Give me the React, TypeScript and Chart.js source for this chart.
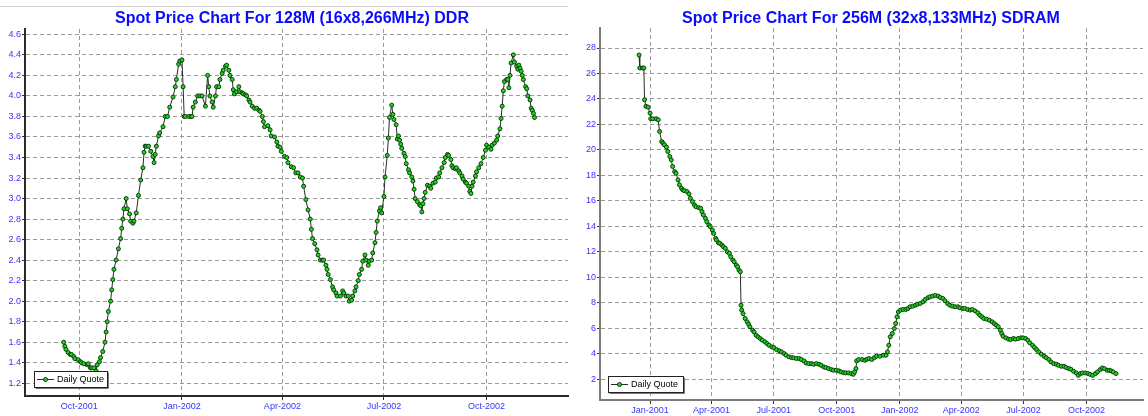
import React, { useEffect, useRef } from "react";
import { Chart, registerables } from "chart.js";

Chart.register(...registerables);

const FONT = '"Liberation Sans", Arial, Helvetica, sans-serif';

// ---------- Chart 1: 128M (16x8,266MHz) DDR ----------
const ddrTitle = "Spot Price Chart For 128M (16x8,266MHz) DDR";
// x values are days counted from 1 Jan 2001
const ddrDays = [
  259, 260, 261, 263, 265, 266, 268, 269, 272, 274, 275, 277, 280, 281, 283, 284, 286, 288, 289, 291,
  292, 294, 296, 297, 298, 299, 301, 302, 303, 304, 306, 308, 310, 311, 312, 313, 315, 316, 318, 319,
  321, 322, 324, 326, 328, 330, 331, 332, 333, 335, 337, 339, 340, 341, 342, 344, 345, 348, 350, 352,
  354, 357, 359, 360, 362, 363, 365, 366, 367, 368, 371, 373, 374, 375, 377, 379, 381, 383, 386, 388,
  389, 390, 392, 393, 395, 396, 398, 399, 401, 402, 404, 405, 407, 408, 410, 411, 412, 414, 416, 417,
  419, 420, 422, 423, 425, 426, 428, 430, 432, 434, 435, 437, 438, 439, 442, 444, 445, 448, 450, 451,
  453, 454, 457, 459, 460,
  463, 465, 467, 469, 471, 473, 474, 476, 478, 480, 481, 482, 484, 486, 487, 489, 491, 492, 494, 495,
  496, 498, 500, 501, 503, 504, 507, 509, 510, 512, 514, 515, 517, 518, 520, 521, 523, 524, 526, 527,
  529, 530, 532, 533, 535, 536, 538, 539, 540, 542, 543, 544, 546, 547, 549, 550, 551, 553, 554, 555,
  557, 558, 559, 560, 561, 562, 564, 565, 566, 568, 569, 571, 572, 573, 574, 576, 578, 579, 580, 581,
  582, 583, 585, 587, 588, 590, 592, 593, 595, 596, 598, 600, 601, 603, 604, 606, 607, 608, 610, 611,
  613, 614, 616, 617, 619, 620, 622, 623, 624, 625, 626, 628, 629, 631, 633, 635, 637, 638, 640, 642,
  643, 645, 647, 648, 650, 651, 652, 653, 654, 656, 657, 658, 659, 660, 662, 663, 665, 666, 667, 668,
  669, 670, 671, 673, 674, 675, 677, 678, 679, 680, 681,
];
const ddrPrices = [
  1.6, 1.56, 1.53, 1.5, 1.48, 1.48, 1.46, 1.44, 1.43, 1.41, 1.4, 1.39, 1.38, 1.39, 1.35, 1.35, 1.35, 1.32, 1.38, 1.41,
  1.45, 1.51, 1.6, 1.7, 1.8, 1.9, 2.0, 2.11, 2.21, 2.31, 2.4, 2.51, 2.61, 2.71, 2.8, 2.9, 3.0, 2.9, 2.85, 2.78,
  2.76, 2.78, 2.86, 3.03, 3.18, 3.3, 3.45, 3.51, 3.51, 3.51, 3.46, 3.41, 3.35, 3.43, 3.51, 3.61, 3.64, 3.7, 3.8, 3.8,
  3.89, 3.99, 4.09, 4.16, 4.31, 4.34, 4.35, 4.09, 3.8, 3.8, 3.8, 3.8, 3.8, 3.89, 3.94, 4.0, 4.0, 4.0, 3.9, 4.2,
  4.09, 4.0, 3.94, 3.89, 4.0, 4.09, 4.09, 4.16, 4.22, 4.25, 4.29, 4.3, 4.25, 4.2, 4.16, 4.06, 4.02, 4.04, 4.09, 4.04,
  4.03, 4.02, 4.01, 4.0, 3.96, 3.94, 3.9, 3.88, 3.88, 3.86, 3.85, 3.8, 3.75, 3.7, 3.71, 3.67, 3.61, 3.6, 3.55, 3.51,
  3.5, 3.46, 3.41, 3.4, 3.35,
  3.31, 3.3, 3.25, 3.25, 3.21, 3.2, 3.12, 2.99, 2.89, 2.8, 2.7, 2.61, 2.56, 2.5, 2.45, 2.4, 2.4, 2.4, 2.35, 2.31,
  2.26, 2.21, 2.14, 2.11, 2.08, 2.05, 2.05, 2.1, 2.08, 2.05, 2.05, 2.0, 2.01, 2.05, 2.1, 2.14, 2.2, 2.26, 2.31, 2.39,
  2.45, 2.4, 2.35, 2.39, 2.4, 2.47, 2.57, 2.67, 2.78, 2.88, 2.91, 2.86, 3.02, 3.21, 3.42, 3.59, 3.79, 3.91, 3.82, 3.77,
  3.72, 3.58, 3.61, 3.57, 3.53, 3.49, 3.44, 3.41, 3.34, 3.28, 3.25, 3.21, 3.17, 3.09, 3.0, 2.97, 2.94, 2.93, 2.87, 2.95,
  3.0, 3.06, 3.13, 3.12, 3.1, 3.15, 3.16, 3.2, 3.21, 3.25, 3.3, 3.35, 3.4, 3.43, 3.42, 3.38, 3.32, 3.3, 3.29, 3.3,
  3.27, 3.25, 3.22, 3.19, 3.16, 3.15, 3.12, 3.07, 3.05, 3.12, 3.16, 3.22, 3.26, 3.3, 3.34, 3.4, 3.47, 3.52, 3.5, 3.48,
  3.52, 3.54, 3.57, 3.61, 3.68, 3.78, 3.9, 4.05, 4.14, 4.16, 4.16, 4.08, 4.2, 4.32, 4.4, 4.33, 4.29, 4.26, 4.3, 4.27,
  4.24, 4.2, 4.16, 4.09, 4.07, 4.0, 3.96, 3.88, 3.86, 3.83, 3.79,
];
const ddrYTicks = [1.2, 1.4, 1.6, 1.8, 2.0, 2.2, 2.4, 2.6, 2.8, 3.0, 3.2, 3.4, 3.6, 3.8, 4.0, 4.2, 4.4, 4.6];
const ddrXTickDays = [273, 365, 455, 546, 638];
const ddrXTickLabels = ["Oct-2001", "Jan-2002", "Apr-2002", "Jul-2002", "Oct-2002"];

// ---------- Chart 2: 256M (32x8,133MHz) SDRAM ----------
const sdramTitle = "Spot Price Chart For 256M (32x8,133MHz) SDRAM";
const sdramDays = [
  -16, -15, -11, -9, -8, -6, -3, 0, 1, 4, 9, 12, 14, 17, 19, 21, 24, 26, 29, 31,
  33, 36, 38, 41, 43, 46, 48, 50, 54, 57, 59, 62, 65, 67, 71, 74, 76, 78, 81, 83,
  86, 88, 91, 93, 96, 97, 100, 102, 105, 107, 110, 113, 116, 118, 121, 123, 126, 128, 130, 132,
  133, 134, 136, 139, 142, 144, 146, 150, 152, 155, 158, 161, 164, 168, 171, 174, 178, 181, 185, 189,
  192, 196, 199, 203, 207, 210, 214, 218, 221, 225, 228, 232, 236, 239, 243, 247, 250, 254, 257, 261,
  265, 268, 272, 276, 279, 283, 286, 290, 294, 297, 299, 301, 302, 305, 310, 314, 317, 320, 324, 328,
  331,
  336, 341, 345, 347, 349, 351, 354, 357, 359, 361, 363, 366, 370, 374, 377, 380, 384, 388, 391, 395,
  399, 402, 406, 409, 413, 417, 421, 424, 428, 431, 435, 438, 442, 446, 450, 453, 457, 460, 464, 468,
  471, 475, 479, 482, 485, 488, 492, 496, 500, 503, 506, 509, 512, 514, 516, 520, 524, 527, 531, 534,
  538, 542, 545, 549, 552, 555, 559, 562, 565, 568, 572, 576, 579, 583, 586, 590, 594, 597, 601, 605,
  608, 612, 615, 619, 623, 626, 629, 632, 636, 640, 643, 647, 651, 654, 658, 661, 664, 668, 671, 674,
  677, 681,
];
const sdramPrices = [
  27.45, 26.43, 26.43, 26.43, 23.94, 23.42, 23.36, 22.89, 22.45, 22.45, 22.45, 22.37, 21.45, 20.66, 20.53, 20.4, 20.22, 19.88, 19.48, 19.22,
  18.7, 18.3, 18.17, 17.65, 17.26, 16.99, 16.86, 16.81, 16.73, 16.55, 16.21, 15.94, 15.68, 15.55, 15.47, 15.42, 15.16, 14.9, 14.63, 14.37,
  14.11, 13.98, 13.72, 13.45, 13.06, 12.93, 12.72, 12.67, 12.54, 12.41, 12.28, 12.01, 11.88, 11.62, 11.36, 11.23, 10.96, 10.83, 10.57, 10.44,
  7.82, 7.43, 7.16, 6.77, 6.51, 6.33, 6.12, 5.85, 5.72, 5.46, 5.33, 5.2, 5.07, 4.94, 4.8, 4.67, 4.54, 4.49, 4.33, 4.23,
  4.15, 4.02, 3.89, 3.76, 3.7, 3.68, 3.63, 3.63, 3.55, 3.44, 3.28, 3.23, 3.23, 3.18, 3.23, 3.18, 3.1, 2.97, 2.92, 2.84,
  2.76, 2.71, 2.71, 2.66, 2.58, 2.52, 2.5, 2.5, 2.45, 2.39, 2.58, 2.84, 3.44, 3.55, 3.55, 3.49, 3.57, 3.63, 3.55, 3.7,
  3.81,
  3.81, 3.89, 3.89, 4.15, 4.67, 5.33, 5.59, 5.98, 6.38, 6.9, 7.29, 7.43, 7.48, 7.48, 7.56, 7.69, 7.74, 7.82, 7.9, 7.95,
  8.08, 8.26, 8.4, 8.47, 8.53, 8.58, 8.53, 8.42, 8.34, 8.16, 7.95, 7.82, 7.74, 7.69, 7.69, 7.61, 7.56, 7.56, 7.48, 7.43,
  7.48, 7.37, 7.22, 7.03, 6.9, 6.77, 6.72, 6.64, 6.51, 6.38, 6.25, 6.12, 5.85, 5.59, 5.38, 5.25, 5.15, 5.12, 5.2, 5.15,
  5.2, 5.25, 5.25, 5.2, 5.07, 4.86, 4.67, 4.49, 4.33, 4.15, 3.97, 3.81, 3.7, 3.55, 3.36, 3.23, 3.18, 3.1, 3.02, 3.02,
  2.92, 2.84, 2.79, 2.63, 2.5, 2.31, 2.45, 2.5, 2.5, 2.45, 2.39, 2.31, 2.45, 2.58, 2.76, 2.89, 2.84, 2.71, 2.71, 2.66,
  2.58, 2.45,
];
const sdramYTicks = [2, 4, 6, 8, 10, 12, 14, 16, 18, 20, 22, 24, 26, 28];
const sdramXTickDays = [0, 90, 181, 273, 365, 455, 546, 638];
const sdramXTickLabels = ["Jan-2001", "Apr-2001", "Jul-2001", "Oct-2001", "Jan-2002", "Apr-2002", "Jul-2002", "Oct-2002"];

const seriesLabel = "Daily Quote";

const boxLegend = {
  id: "boxLegend",
  afterDraw(chart: any, _args: any, opts: any) {
    const { ctx, chartArea } = chart;
    const ds = chart.data.datasets[0];
    const x = Math.round(chartArea.left + opts.dx);
    const y = Math.round(chartArea.bottom + opts.dy);
    ctx.save();
    ctx.fillStyle = "#ffffff";
    ctx.fillRect(x, y, opts.w, opts.h);
    ctx.strokeStyle = "#222222";
    ctx.lineWidth = 1;
    ctx.strokeRect(x + 0.5, y + 0.5, opts.w, opts.h);
    ctx.strokeStyle = "#777777";
    ctx.beginPath();
    ctx.moveTo(x + 1.5, y + opts.h + 1.5);
    ctx.lineTo(x + opts.w + 1.5, y + opts.h + 1.5);
    ctx.lineTo(x + opts.w + 1.5, y + 1.5);
    ctx.stroke();
    const cy = y + opts.h / 2 + 0.5;
    ctx.strokeStyle = ds.borderColor;
    ctx.beginPath();
    ctx.moveTo(x + 3, cy);
    ctx.lineTo(x + 20, cy);
    ctx.stroke();
    ctx.beginPath();
    ctx.arc(x + 11.5, cy, 2, 0, Math.PI * 2);
    ctx.fillStyle = ds.pointBackgroundColor;
    ctx.fill();
    ctx.strokeStyle = ds.pointBorderColor;
    ctx.stroke();
    ctx.fillStyle = "#000000";
    ctx.font = `9px ${FONT}`;
    ctx.textBaseline = "middle";
    ctx.textAlign = "left";
    ctx.fillText(ds.label, x + 23, cy + 0.5);
    ctx.restore();
  },
};

type Spec = {
  days: number[];
  prices: number[];
  yTicks: number[];
  yDecimals: number;
  xTickDays: number[];
  xTickLabels: string[];
  xMin: number;
  xMax: number;
  yMin: number;
  yMax: number;
  yAxisWidth: number;
  xAxisHeight: number;
  padTop: number;
  padRight: number;
  axisColor: string;
  legend: { dx: number; dy: number; w: number; h: number };
};

const TICK_COLOR = "#3434ff";
const GRID_COLOR = "#9a9a9a";

function makeConfig(s: Spec): any {
  return {
    type: "line",
    data: {
      datasets: [
        {
          label: seriesLabel,
          data: s.days.map((d, i) => ({ x: d, y: s.prices[i] })),
          borderColor: "#2a2a2a",
          borderWidth: 1,
          pointRadius: 2,
          pointBorderWidth: 1,
          pointBackgroundColor: "#1fd81f",
          pointBorderColor: "#0b3b0b",
          tension: 0,
          fill: false,
        },
      ],
    },
    options: {
      animation: false,
      responsive: false,
      layout: { padding: { top: s.padTop, right: s.padRight, left: 0, bottom: 0 } },
      plugins: {
        legend: { display: false },
        tooltip: { enabled: false },
        title: { display: false },
        boxLegend: s.legend,
      },
      scales: {
        x: {
          type: "linear",
          min: s.xMin,
          max: s.xMax,
          afterBuildTicks: (axis: any) => {
            axis.ticks = s.xTickDays.map((v) => ({ value: v }));
          },
          afterFit: (axis: any) => {
            axis.height = s.xAxisHeight;
          },
          ticks: {
            autoSkip: false,
            maxRotation: 0,
            padding: 1,
            color: TICK_COLOR,
            font: { family: FONT, size: 9 },
            callback: (v: any) => s.xTickLabels[s.xTickDays.indexOf(Number(v))] ?? "",
          },
          grid: {
            color: GRID_COLOR,
            lineWidth: 1,
            tickLength: 4,
            tickColor: "#333333",
            tickBorderDash: [],
            borderDash: [4, 3],
          },
          border: { display: true, color: s.axisColor, width: 2, dash: [4, 3] },
        },
        y: {
          type: "linear",
          min: s.yMin,
          max: s.yMax,
          afterBuildTicks: (axis: any) => {
            axis.ticks = s.yTicks.map((v) => ({ value: v }));
          },
          afterFit: (axis: any) => {
            axis.width = s.yAxisWidth;
          },
          ticks: {
            autoSkip: false,
            padding: 1,
            color: TICK_COLOR,
            font: { family: FONT, size: 9 },
            callback: (v: any) => Number(v).toFixed(s.yDecimals),
          },
          grid: {
            color: GRID_COLOR,
            lineWidth: 1,
            tickLength: 3,
            tickColor: "#333333",
            tickBorderDash: [],
            borderDash: [4, 3],
          },
          border: { display: true, color: s.axisColor, width: 2, dash: [4, 3] },
        },
      },
    },
    plugins: [boxLegend],
  };
}

function PriceChart({ spec, left, width }: { spec: Spec; left: number; width: number }) {
  const ref = useRef<HTMLCanvasElement | null>(null);
  useEffect(() => {
    if (!ref.current) return;
    const chart = new Chart(ref.current, makeConfig(spec));
    return () => chart.destroy();
  }, [spec]);
  return (
    <canvas
      ref={ref}
      width={width}
      height={416}
      style={{ position: "absolute", left, top: 0, width, height: 416 }}
    />
  );
}

const ddrSpec: Spec = {
  days: ddrDays,
  prices: ddrPrices,
  yTicks: ddrYTicks,
  yDecimals: 1,
  xTickDays: ddrXTickDays,
  xTickLabels: ddrXTickLabels,
  xMin: 224.3,
  xMax: 711,
  yMin: 1.076,
  yMax: 4.652,
  yAxisWidth: 25,
  xAxisHeight: 20,
  padTop: 29,
  padRight: 6,
  axisColor: "#2b2b2b",
  legend: { dx: 9, dy: -25, w: 73, h: 16 },
};

const sdramSpec: Spec = {
  days: sdramDays,
  prices: sdramPrices,
  yTicks: sdramYTicks,
  yDecimals: 0,
  xTickDays: sdramXTickDays,
  xTickLabels: sdramXTickLabels,
  xMin: -73.1,
  xMax: 720.5,
  yMin: 0.374,
  yMax: 29.57,
  yAxisWidth: 26,
  xAxisHeight: 16,
  padTop: 28,
  padRight: 2,
  axisColor: "#7c7c7c",
  legend: { dx: 8, dy: -24, w: 75, h: 16 },
};

const titleStyle = (center: number): React.CSSProperties => ({
  position: "absolute",
  left: center - 300,
  width: 600,
  top: 10,
  textAlign: "center",
  font: `bold 16px ${FONT}`,
  lineHeight: "16px",
  color: "#0a0aff",
  whiteSpace: "nowrap",
});

export default function App() {
  return (
    <div
      style={{
        position: "fixed",
        left: 0,
        top: 0,
        width: 1148,
        height: 416,
        background: "#ffffff",
        overflow: "hidden",
      }}
    >
      <div style={{ position: "absolute", left: 0, top: 6, width: 568, height: 1, background: "#cfcfcf" }} />
      <PriceChart spec={ddrSpec} left={0} width={574} />
      <PriceChart spec={sdramSpec} left={574} width={574} />
      <div style={titleStyle(292)}>{ddrTitle}</div>
      <div style={titleStyle(871)}>{sdramTitle}</div>
    </div>
  );
}
